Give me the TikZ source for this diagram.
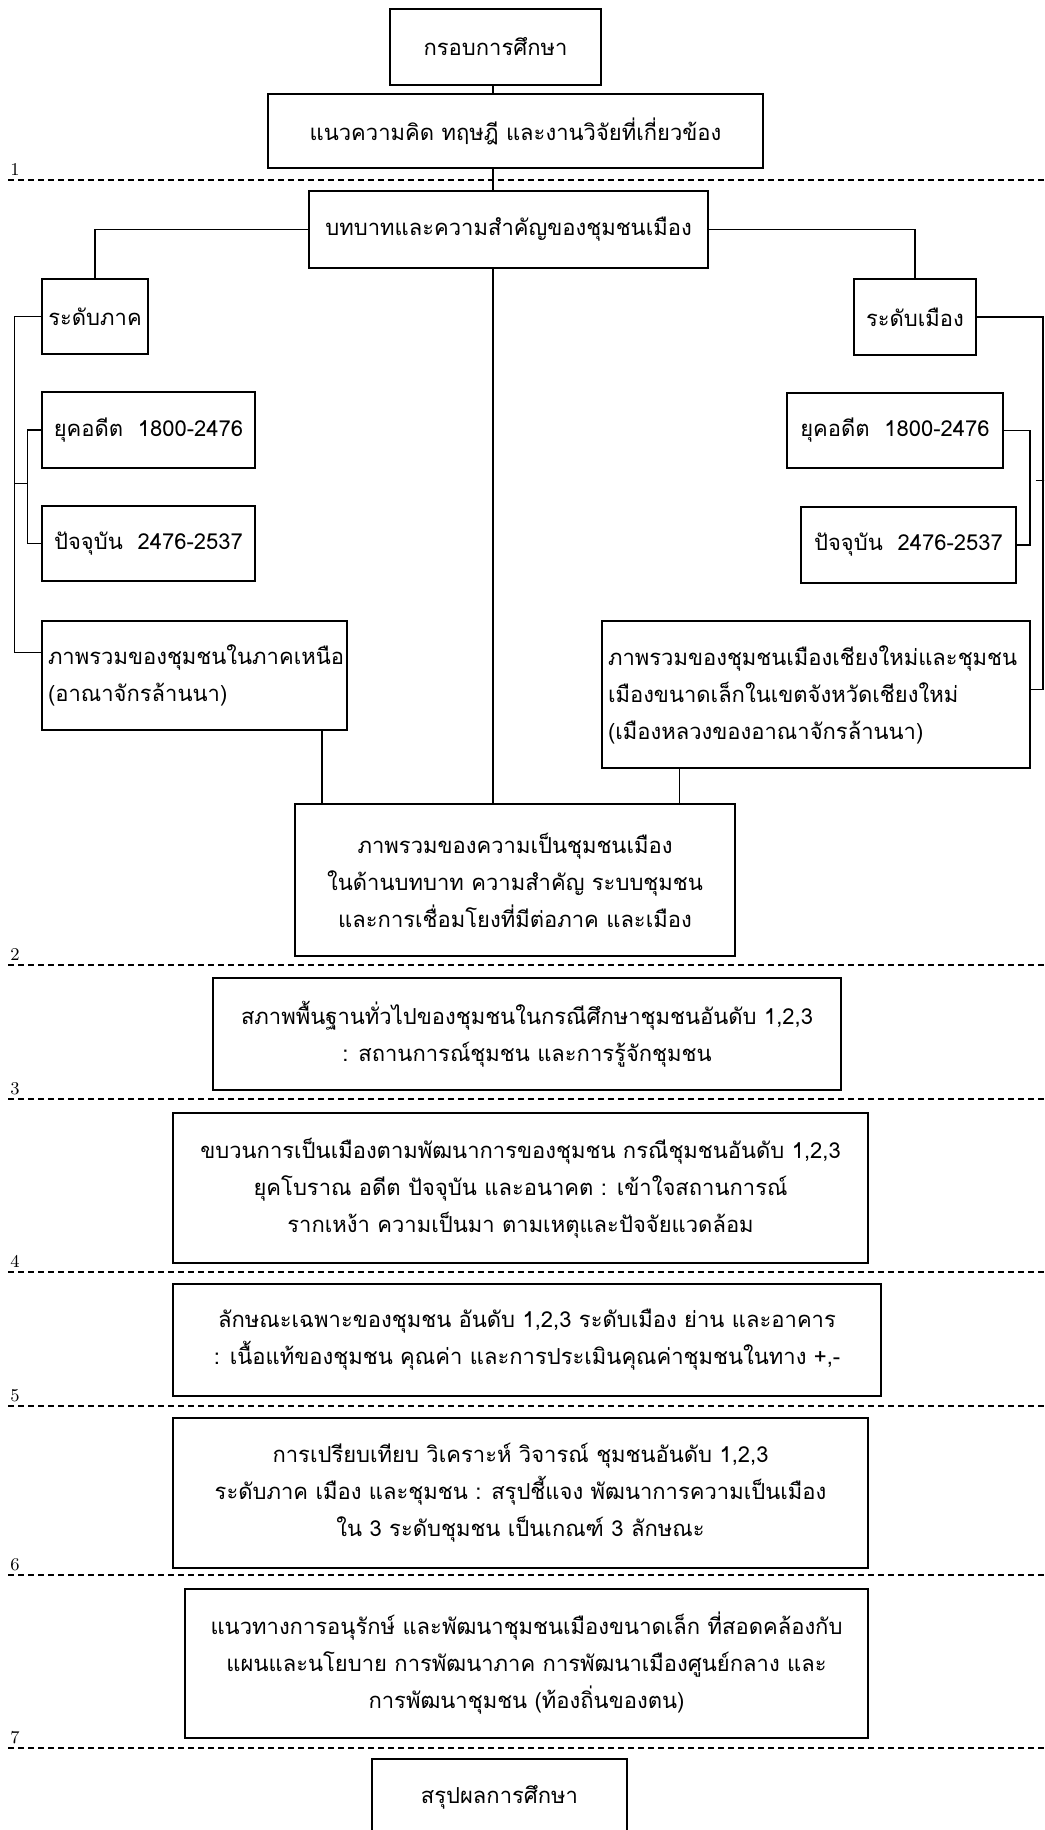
\documentclass[tikz,border=0pt]{standalone}
\usepackage{fontspec}
\newfontfamily\thai[Script=Thai]{Loma}
\usetikzlibrary{calc}

\tikzset{
  box/.style={draw,line width=0.9pt,inner sep=2pt,align=center,
    font=\thai\fontsize{11}{18.5}\selectfont},
  leftbox/.style={box,align=left,inner sep=3pt},
  sepline/.style={dash pattern=on 3pt off 2pt,line width=0.7pt},
  seplabel/.style={font=\fontsize{9}{9}\selectfont,anchor=south,inner sep=1pt},
}

\begin{document}
\begin{tikzpicture}[x=0.5pt,y=-0.5pt]

      \useasboundingbox (0,0) rectangle (1044,1830);
      \clip (0,0) rectangle (1044,1830);

      \begin{scope}[every node/.style={box}]
        \node[minimum width=105.5pt,minimum height=38pt] (frame) at (495.5,47) {กรอบการศึกษา};
        \node[minimum width=247.5pt,minimum height=37pt] (concept) at (515.5,131) {แนวความคิด ทฤษฎี และงานวิจัยที่เกี่ยวข้อง};
        \node[minimum width=199.5pt,minimum height=38.5pt] (role) at (508.5,229.5) {บทบาทและความสำคัญของชุมชนเมือง};
        \node[minimum width=53pt,minimum height=37.5pt] (region) at (95,316.5) {ระดับภาค};
        \node[minimum width=106.5pt,minimum height=38pt] (pastL) at (148.5,430) {ยุคอดีต~~1800-2476};
        \node[minimum width=106.5pt,minimum height=37.5pt] (nowL) at (148.5,543.5) {ปัจจุบัน~~2476-2537};
        \node[leftbox,text width=146.5pt,minimum height=54.5pt] (overL) at (194.5,675.5) {ภาพรวมของชุมชนในภาคเหนือ\\(อาณาจักรล้านนา)};
        \node[minimum width=61pt,minimum height=38pt] (city) at (915,317) {ระดับเมือง};
        \node[minimum width=108pt,minimum height=37.5pt] (pastR) at (895,430.5) {ยุคอดีต~~1800-2476};
        \node[minimum width=107.5pt,minimum height=38pt] (nowR) at (908.5,545) {ปัจจุบัน~~2476-2537};
        \node[leftbox,text width=208pt,minimum height=73.5pt] (overR) at (816,694.5) {ภาพรวมของชุมชนเมืองเชียงใหม่และชุมชน\\เมืองขนาดเล็กในเขตจังหวัดเชียงใหม่\\(เมืองหลวงของอาณาจักรล้านนา)};
        \node[minimum width=220pt,minimum height=76pt] (overall) at (515,880) {ภาพรวมของความเป็นชุมชนเมือง\\ในด้านบทบาท ความสำคัญ ระบบชุมชน\\และการเชื่อมโยงที่มีต่อภาค และเมือง};
        \node[minimum width=314pt,minimum height=56pt] (basic) at (527,1034) {สภาพพื้นฐานทั่วไปของชุมชนในกรณีศึกษาชุมชนอันดับ 1,2,3\\: สถานการณ์ชุมชน และการรู้จักชุมชน};
        \node[minimum width=347.5pt,minimum height=75pt] (process) at (520.5,1188) {ขบวนการเป็นเมืองตามพัฒนาการของชุมชน กรณีชุมชนอันดับ 1,2,3\\ยุคโบราณ อดีต ปัจจุบัน และอนาคต : เข้าใจสถานการณ์\\รากเหง้า ความเป็นมา ตามเหตุและปัจจัยแวดล้อม};
        \node[minimum width=354pt,minimum height=56pt] (nature) at (527,1340) {ลักษณะเฉพาะของชุมชน อันดับ 1,2,3 ระดับเมือง ย่าน และอาคาร\\: เนื้อแท้ของชุมชน คุณค่า และการประเมินคุณค่าชุมชนในทาง +,-};
        \node[minimum width=347.5pt,minimum height=75pt] (compare) at (520.5,1493) {การเปรียบเทียบ วิเคราะห์ วิจารณ์ ชุมชนอันดับ 1,2,3\\ระดับภาค เมือง และชุมชน : สรุปชี้แจง พัฒนาการความเป็นเมือง\\ใน 3 ระดับชุมชน เป็นเกณฑ์ 3 ลักษณะ};
        \node[minimum width=341.5pt,minimum height=74.5pt] (guide) at (526.5,1663.5) {แนวทางการอนุรักษ์ และพัฒนาชุมชนเมืองขนาดเล็ก ที่สอดคล้องกับ\\แผนและนโยบาย การพัฒนาภาค การพัฒนาเมืองศูนย์กลาง และ\\การพัฒนาชุมชน (ท้องถิ่นของตน)};
        \node[minimum width=127.5pt,minimum height=38pt] (result) at (499.5,1797) {สรุปผลการศึกษา};
      \end{scope}

      % stages
      \foreach \y/\n in {180/1,965/2,1099/3,1272/4,1406/5,1575/6,1748/7} {
        \draw[sepline] (8,\y) -- (1044,\y);
        \node[seplabel] (stage\n) at (15,\y-2) {\n};
      }

      \begin{scope}[line width=0.6pt]
        \coordinate (spine) at (493,0);
        \path (spine |- frame.south) edge (spine |- concept.north);
        \path (spine |- concept.south) edge (spine |- role.north);
        \path (spine |- role.south) edge (spine |- overall.north);
        \draw (role.west) -| (region.north);
        \draw (role.east) -| (city.north);

        % left bracket
        \coordinate (tipL) at ($(overL.north west)+(0,32)$);
        \draw (region.west) -| ($(tipL)+(-27,0)$) -- (tipL);
        \draw (pastL.west) -| ($(nowL.west)+(-14,0)$) -- (nowL.west);
        \draw ($(pastL.west)!0.47!(nowL.west)+(-14,0)$) -- ++(-13,0);

        % right bracket
        \coordinate (tipR) at ($(overR.north east)+(0,69)$);
        \draw (city.east) -| ($(tipR)+(12,0)$) -- (tipR);
        \draw (pastR.east) -| ($(nowR.east)+(13,0)$) -- (nowR.east);
        \draw ($(pastR.east)!0.44!(nowR.east)+(26,0)$) -- ++(13,0);

        \coordinate (footL) at ($(overL.south east)+(-26,0)$);
        \coordinate (footR) at ($(overR.south west)+(78,0)$);
        \path (footL) edge (footL |- overall.north);
        \path (footR) edge (footR |- overall.north);
      \end{scope}

    \end{tikzpicture}
\end{document}
